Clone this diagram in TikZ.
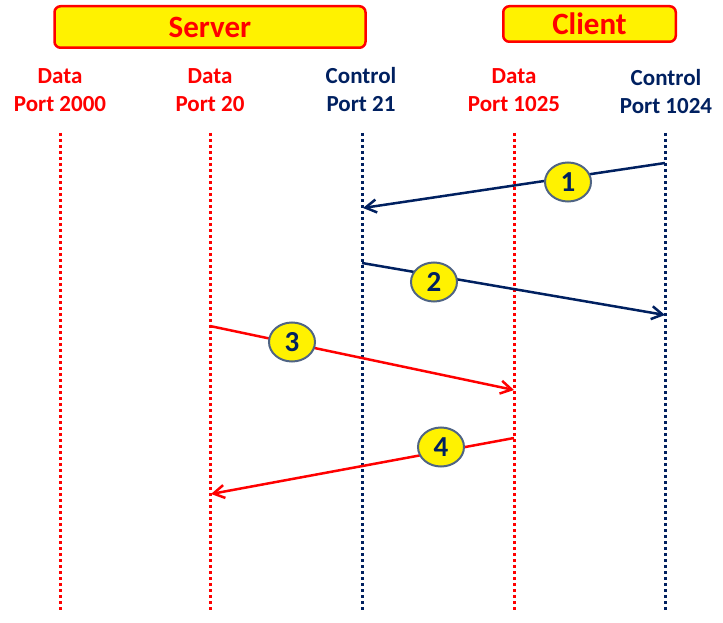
\documentclass[tikz,border=0pt]{standalone}
\usepackage{fontspec}
\setmainfont{Carlito}
\usetikzlibrary{shapes.geometric,arrows.meta}
\definecolor{navy}{HTML}{002060}
\definecolor{slate}{HTML}{4F6484}
\tikzset{
  headbox/.style={draw=red,line width=2.5pt,fill=yellow,rounded corners=6pt,text=red,inner sep=0pt,
    font=\fontsize{31}{36}\selectfont\bfseries},
  portlbl/.style={align=center,inner sep=0pt,font=\fontsize{23}{28}\selectfont\bfseries},
  life/.style={line width=3pt,dash pattern=on 3pt off 3pt},
  msg/.style={-{Straight Barb[length=11pt,width=13pt]},line width=2.5pt},
  stepnum/.style={ellipse,draw=slate,line width=2pt,fill=yellow,text=navy,inner sep=0pt,
    minimum width=46pt,minimum height=39pt,font=\fontsize{29}{30}\selectfont\bfseries},
}
\begin{document}
\begin{tikzpicture}[x=1pt,y=-1pt]
\useasboundingbox (0,0) rectangle (723,623);

% headers
\node[headbox,minimum width=311pt,minimum height=41.5pt] (server) at (210,27) {Server};
\node[headbox,minimum width=172.5pt,minimum height=35.5pt] (client) at (589.5,24) {Client};

% port labels
\node[portlbl,red] (p2000) at (60,90) {Data\\Port 2000};
\node[portlbl,red] (p20) at (210,90) {Data\\Port 20};
\node[portlbl,navy] (p21) at (361,90) {Control\\Port 21};
\node[portlbl,red] (p1025) at (514,90) {Data\\Port 1025};
\node[portlbl,navy] (p1024) at (666,92) {Control\\Port 1024};

% lifelines
\draw[life,red] (60,133) coordinate (t2000) -- (60,610) coordinate (b2000);
\draw[life,red] (210,133) coordinate (t20) -- (210,610) coordinate (b20);
\draw[life,navy] (362,133) coordinate (t21) -- (362,610) coordinate (b21);
\draw[life,red] (514,133) coordinate (t1025) -- (514,610) coordinate (b1025);
\draw[life,navy] (665,133) coordinate (t1024) -- (665,610) coordinate (b1024);

% messages
\coordinate (m1a) at (665,163);
\coordinate (m1b) at (363,208);
\coordinate (m2a) at (362,263);
\coordinate (m2b) at (665,315);
\coordinate (m3a) at (210,326);
\coordinate (m3b) at (514,390);
\coordinate (m4a) at (514,438);
\coordinate (m4b) at (211,494);
\draw[msg,navy] (m1a) -- (m1b);
\draw[msg,navy] (m2a) -- (m2b);
\draw[msg,red] (m3a) -- (m3b);
\draw[msg,red] (m4a) -- (m4b);

% step numbers
\node[stepnum] (s1) at (568,182) {1};
\node[stepnum] (s2) at (434,282) {2};
\node[stepnum] (s3) at (292,342) {3};
\node[stepnum] (s4) at (441,447) {4};

\end{tikzpicture}
\end{document}
